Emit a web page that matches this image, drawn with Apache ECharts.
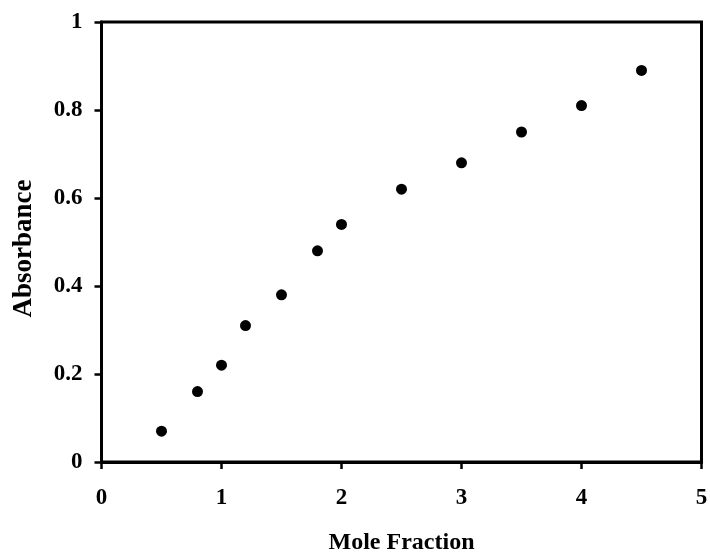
<!DOCTYPE html>
<html>
<head>
<meta charset="utf-8">
<script src="https://cdn.jsdelivr.net/npm/echarts@6/dist/echarts.min.js"></script>
<style>html,body{margin:0;padding:0;background:#fff;}#c{width:710px;height:553px;}</style>
</head>
<body>
<div id="c"></div>
<script>
var xValues = [0.5, 0.8, 1, 1.2, 1.5, 1.8, 2, 2.5, 3, 3.5, 4, 4.5];
var yValues = [0.07, 0.16, 0.22, 0.31, 0.38, 0.48, 0.54, 0.62, 0.68, 0.75, 0.81, 0.89];
var xTitle = 'Mole Fraction';
var yTitle = 'Absorbance';

var points = xValues.map(function (x, i) { return [x, yValues[i]]; });
var font = '"Liberation Serif", "Times New Roman", serif';
var chart = echarts.init(document.getElementById('c'), null, {renderer: 'canvas'});
chart.setOption({
  animation: false,
  backgroundColor: '#fff',
  grid: {left: 101.5, top: 22, right: 8.5, bottom: 91, containLabel: false, outerBoundsMode: 'none',
    show: true, borderColor: '#000', borderWidth: 3, backgroundColor: 'transparent'},
  xAxis: {
    type: 'value', min: 0, max: 5, interval: 1,
    name: xTitle, nameLocation: 'middle', nameGap: 69,
    nameTextStyle: {fontFamily: font, fontWeight: 'bold', fontSize: 24, color: '#000'},
    axisLine: {show: true, onZero: false, lineStyle: {color: '#000', width: 3}},
    axisTick: {show: true, inside: false, length: 7, lineStyle: {color: '#000', width: 2.5}},
    axisLabel: {margin: 25, fontFamily: font, fontWeight: 'bold', fontSize: 23, color: '#000'},
    splitLine: {show: false}
  },
  yAxis: {
    type: 'value', min: 0, max: 1, interval: 0.2,
    name: yTitle, nameLocation: 'middle', nameGap: 64, nameRotate: 90,
    nameTextStyle: {fontFamily: font, fontWeight: 'bold', fontSize: 27, color: '#000', padding: [0, 13, 0, 0]},
    axisLine: {show: true, onZero: false, lineStyle: {color: '#000', width: 3}},
    axisTick: {show: true, inside: false, length: 7, lineStyle: {color: '#000', width: 2.5}},
    axisLabel: {margin: 19, fontFamily: font, fontWeight: 'bold', fontSize: 23, color: '#000'},
    splitLine: {show: false}
  },
  series: [{
    type: 'scatter',
    data: points,
    symbol: 'circle',
    symbolSize: 11,
    itemStyle: {color: '#000', opacity: 1}
  }]
});
</script>
</body>
</html>
